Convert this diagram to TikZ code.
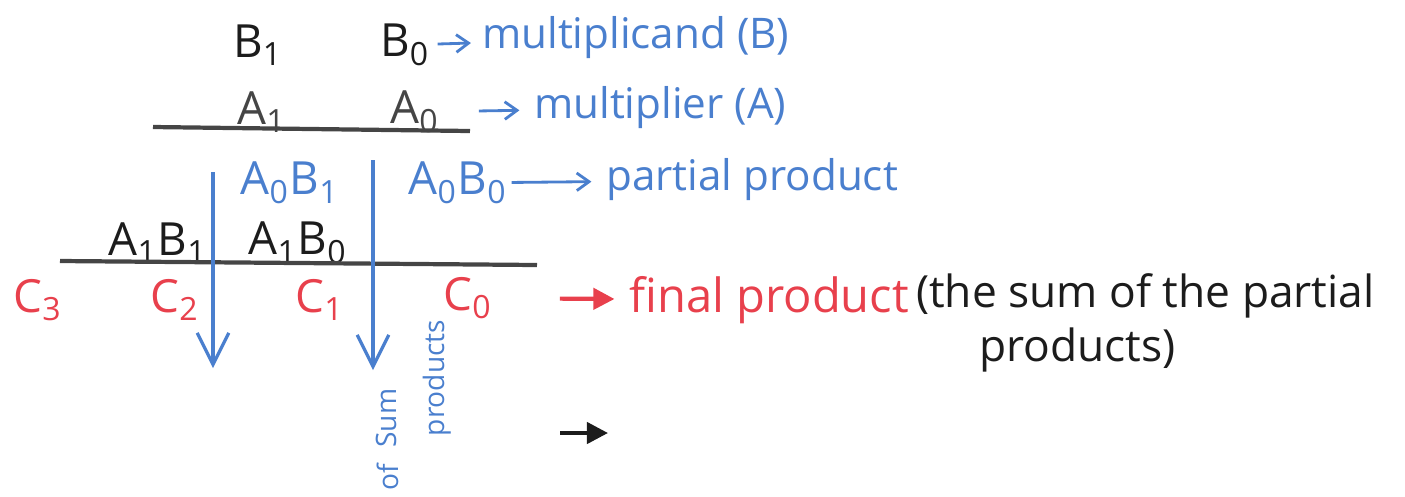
\documentclass[tikz,border=0pt]{standalone}
\usepackage{fontspec}
\setmainfont{Open Sans}
\usepackage{xcolor}
\usepackage{tikz}
\usetikzlibrary{arrows.meta,positioning}
\definecolor{penblue}{HTML}{4A7FCE}
\definecolor{penred}{HTML}{E8404C}
\definecolor{penblack}{HTML}{1C1C1C}
\definecolor{pengray}{HTML}{454545}

\begin{document}
\begin{tikzpicture}[x=0.01cm, y=-0.01cm,
  digit/.style={inner sep=1pt, font=\fontsize{13}{15}\selectfont},
  note/.style={inner sep=1pt, anchor=west, font=\fontsize{12}{14}\selectfont},
  bignote/.style={inner sep=1pt, anchor=west, font=\fontsize{13.4}{16}\selectfont},
  aside/.style={inner sep=1pt, anchor=west, font=\fontsize{12.6}{15}\selectfont},
  side/.style={inner sep=1pt, rotate=90, penblue, font=\fontsize{8}{10}\selectfont},
  rule/.style={line width=1.2pt, pengray},
  arr/.style={-{Straight Barb[length=3.5pt, width=5pt]}, line width=0.8pt},
  fat/.style={-{Triangle[length=6pt, width=6pt]}, line width=1.2pt},
  down/.style={-{Straight Barb[length=9pt, width=9pt]}, line width=0.9pt, penblue}
]
  \useasboundingbox (0,0) rectangle (1405,496);

  % multiplicand and multiplier
  \node[digit, penblack] (b1) at (258,45) {B\textsubscript{1}};
  \node[digit, penblack] (b0) at (405,45) {B\textsubscript{0}};
  \node[note, penblue]   (mcand) at (478,38) {multiplicand (B)};
  \node[digit, pengray]  (a1) at (262,112) {A\textsubscript{1}};
  \node[digit, pengray]  (a0) at (415,112) {A\textsubscript{0}};
  \node[note, penblue]   (mplier) at (530,108) {multiplier (A)};
  \coordinate (rule1w) at (153,127);
  \coordinate (rule1e) at (470,131);
  \draw[rule] (rule1w) -- (rule1e);

  % partial products
  \node[digit, penblue]  (a0b1) at (290,183) {A\textsubscript{0}B\textsubscript{1}};
  \node[digit, penblue]  (a0b0) at (458,183) {A\textsubscript{0}B\textsubscript{0}};
  \node[note, penblue]   (partial) at (602,180) {partial product};
  \node[digit, penblack] (a1b1) at (158,243) {A\textsubscript{1}B\textsubscript{1}};
  \node[digit, penblack] (a1b0) at (298,243) {A\textsubscript{1}B\textsubscript{0}};
  \coordinate (rule2w) at (60,261);
  \coordinate (rule2e) at (537,265);
  \draw[rule] (rule2w) -- (rule2e);

  % final product
  \node[digit, penred] (c3) at (38,300)  {C\textsubscript{3}};
  \node[digit, penred] (c2) at (175,300) {C\textsubscript{2}};
  \node[digit, penred] (c1) at (320,300) {C\textsubscript{1}};
  \node[digit, penred] (c0) at (468,298) {C\textsubscript{0}};
  \node[bignote, penred]  (final) at (625,300) {final product};
  \node[aside, penblack] (sumnote) at (912,296) {(the sum of the partial};
  \node[aside, penblack] (sumnote2) at (975,350) {products)};

  % sum of products
  \node[side] (sum)   at (386,418) {Sum};
  \node[side] (of)    at (388,477) {of};
  \node[side] (prods) at (437,378) {products};
  \coordinate (col1top) at (213,172);
  \coordinate (col1bot) at (213,368);
  \coordinate (col2top) at (373,160);
  \coordinate (col2bot) at (373,370);
  \coordinate (lonew) at (560,433);
  \coordinate (lonee) at (608,433);

  \draw[arr, penblue, shorten <=1pt, shorten >=2pt] (b0) -- (mcand);
  \draw[arr, penblue, shorten <=10pt, shorten >=3pt] (a0) -- (mplier);
  \draw[arr, penblue, shorten >=3pt] (a0b0) -- (partial);
  \draw[fat, penred, shorten <=18pt, shorten >=3pt] (c0) -- (final);
  \draw[down] (col1top) -- (col1bot);
  \draw[down] (col2top) -- (col2bot);
  \draw[fat, penblack] (lonew) -- (lonee);
\end{tikzpicture}
\end{document}
